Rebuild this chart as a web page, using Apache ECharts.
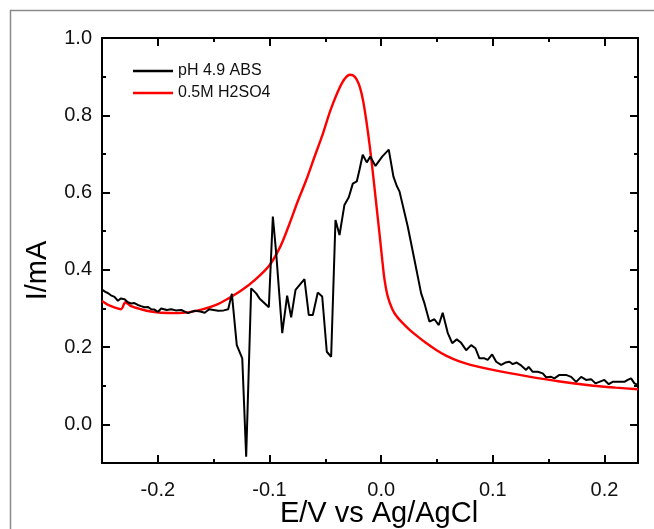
<!DOCTYPE html>
<html>
<head>
<meta charset="utf-8">
<script src="https://cdn.jsdelivr.net/npm/echarts@6/dist/echarts.min.js"></script>
<style>html,body{margin:0;padding:0;background:#fff}#c{width:654px;height:529px}</style>
</head>
<body>
<div id="c"></div>
<script>
// ---- data ----
var seriesNames = ['pH 4.9 ABS', '0.5M H2SO4'];
var abs49 = [
[-0.2507,0.350],[-0.2470,0.343],[-0.2448,0.340],[-0.2420,0.334],[-0.2388,0.330],[-0.2358,0.320],
[-0.2330,0.326],[-0.2298,0.324],[-0.2268,0.316],[-0.2238,0.313],[-0.2210,0.314],
[-0.2179,0.309],[-0.2150,0.306],[-0.2119,0.303],[-0.2090,0.304],[-0.2059,0.298],[-0.2030,0.297],[-0.2000,0.291],[-0.1970,0.300],[-0.1920,0.296],[-0.1880,0.298],
[-0.1840,0.295],[-0.1790,0.296],[-0.1730,0.288],[-0.1670,0.294],[-0.1620,0.292],[-0.1580,0.289],[-0.1540,0.298],[-0.1500,0.296],[-0.1460,0.294],
[-0.1410,0.295],[-0.1370,0.298],[-0.1337,0.338],[-0.1293,0.205],[-0.1244,0.171],[-0.1209,-0.084],[-0.1164,0.352],
[-0.1119,0.339],[-0.1090,0.326],[-0.1006,0.303],[-0.0970,0.538],[-0.0940,0.443],[-0.0886,0.236],
[-0.0842,0.333],[-0.0806,0.277],[-0.0767,0.348],[-0.0687,0.376],[-0.0648,0.283],[-0.0612,0.283],
[-0.0568,0.341],[-0.0528,0.331],[-0.0487,0.188],[-0.0448,0.175],[-0.0409,0.529],[-0.0373,0.490],
[-0.0329,0.568],[-0.0290,0.588],[-0.0254,0.623],[-0.0218,0.629],[-0.0194,0.659],[-0.0165,0.698],
[-0.0129,0.678],[-0.0098,0.693],[-0.0051,0.669],[0.0009,0.693],[0.0068,0.711],[0.0083,0.711],
[0.0110,0.641],[0.0140,0.617],[0.0164,0.603],[0.0238,0.512],[0.0298,0.426],[0.0358,0.339],
[0.0388,0.313],[0.0432,0.266],[0.0477,0.272],[0.0516,0.257],[0.0551,0.289],[0.0596,0.237],
[0.0636,0.210],[0.0677,0.220],[0.0716,0.211],[0.0761,0.192],[0.0806,0.205],[0.0844,0.197],
[0.0880,0.171],[0.0925,0.171],[0.0954,0.167],[0.0994,0.181],[0.1030,0.162],[0.1074,0.154],
[0.1113,0.160],[0.1149,0.162],[0.1178,0.156],[0.1214,0.160],[0.1256,0.152],[0.1298,0.141],
[0.1321,0.149],[0.1357,0.136],[0.1402,0.136],[0.1447,0.132],[0.1477,0.122],[0.1522,0.123],
[0.1551,0.119],[0.1596,0.128],[0.1656,0.128],[0.1701,0.123],[0.1746,0.110],[0.1791,0.123],
[0.1835,0.115],[0.1880,0.117],[0.1919,0.106],[0.1954,0.110],[0.1999,0.115],[0.2038,0.104],
[0.2073,0.110],[0.2133,0.110],[0.2178,0.110],[0.2208,0.115],[0.2238,0.119],[0.2268,0.106],
[0.2298,0.102]
];
var h2so4 = [
[-0.250,0.319],[-0.245,0.310],[-0.239,0.303],[-0.233,0.298],[-0.229,0.316],[-0.224,0.306],
[-0.215,0.298],[-0.206,0.292],[-0.197,0.289],[-0.182,0.288],[-0.173,0.290],[-0.161,0.297],
[-0.149,0.308],[-0.138,0.324],[-0.125,0.347],[-0.113,0.374],[-0.100,0.412],[-0.090,0.462],
[-0.082,0.520],[-0.075,0.575],[-0.067,0.633],[-0.060,0.690],[-0.052,0.754],[-0.046,0.808],
[-0.040,0.853],[-0.035,0.884],[-0.031,0.900],[-0.028,0.905],[-0.025,0.903],[-0.022,0.893],
[-0.019,0.872],[-0.016,0.835],[-0.013,0.780],[-0.010,0.715],[-0.007,0.640],[-0.004,0.560],
[-0.001,0.480],[0.001,0.425],[0.003,0.375],[0.006,0.330],[0.010,0.298],[0.014,0.279],
[0.020,0.260],[0.025,0.246],[0.032,0.229],[0.040,0.211],[0.050,0.191],[0.058,0.178],
[0.070,0.163],[0.080,0.154],[0.100,0.141],[0.130,0.125],[0.160,0.111],[0.190,0.100],
[0.210,0.095],[0.230,0.091]
];
var xMajorTicks = [-0.2, -0.1, 0.0, 0.1, 0.2];
var xMinorTicks = [-0.15, -0.05, 0.05, 0.15];
var yMajorTicks = [0.0, 0.2, 0.4, 0.6, 0.8, 1.0];
var yMinorTicks = [-0.1, 0.1, 0.3, 0.5, 0.7, 0.9];
var xRange = [-0.25, 0.23];
var yRange = [-0.1, 1.0];
var xTitle = 'E/V vs Ag/AgCl';
var yTitle = 'I/mA';

// ---- chart ----
var FONT = "'Liberation Sans', Arial, sans-serif";
function xAx(pos, ticks, len, labels, name) {
  return {
    type: 'value', position: pos, min: xRange[0], max: xRange[1],
    name: name || '', nameLocation: 'middle', nameGap: 36, nameMoveOverlap: false,
    nameTextStyle: {fontFamily: FONT, fontSize: 29, color: '#000', padding: [0, 0, 0, 18]},
    axisLine: {show: true, onZero: false, lineStyle: {color: '#000', width: 2}},
    axisTick: {show: true, inside: true, length: len, customValues: ticks, lineStyle: {color: '#000', width: 2}},
    axisLabel: {show: labels, customValues: ticks, margin: 17, fontFamily: FONT, fontSize: 20, color: '#111',
      formatter: function (v) { return v.toFixed(1); }},
    splitLine: {show: false}
  };
}
function yAx(pos, ticks, len, labels, name) {
  return {
    type: 'value', position: pos, min: yRange[0], max: yRange[1],
    name: name || '', nameLocation: 'middle', nameGap: 50, nameRotate: 90, nameMoveOverlap: false,
    nameTextStyle: {fontFamily: FONT, fontSize: 29, color: '#000', padding: [0, 40, 0, 0]},
    axisLine: {show: true, onZero: false, lineStyle: {color: '#000', width: 2}},
    axisTick: {show: true, inside: true, length: len, customValues: ticks, lineStyle: {color: '#000', width: 2}},
    axisLabel: {show: labels, customValues: ticks, margin: 10, fontFamily: FONT, fontSize: 20, color: '#111',
      formatter: function (v) { return v.toFixed(1); }},
    splitLine: {show: false}
  };
}
var chart = echarts.init(document.getElementById('c'), null, {renderer: 'canvas'});
chart.setOption({
  animation: false,
  backgroundColor: '#fff',
  graphic: [{type: 'rect', shape: {x: 10.5, y: 10.5, width: 800, height: 800},
    style: {fill: 'none', stroke: '#8a8a8a', lineWidth: 1.5}, silent: true}],
  grid: {left: 102, right: 16, top: 38, bottom: 66, containLabel: false, outerBoundsMode: 'none'},
  legend: {
    orient: 'vertical', left: 128, top: 58, itemWidth: 40, itemHeight: 2.5, itemGap: 6,
    icon: 'rect',
    textStyle: {fontFamily: FONT, fontSize: 16, color: '#111'},
    data: seriesNames
  },
  xAxis: [
    xAx('bottom', xMajorTicks, 8, true, xTitle),
    xAx('bottom', xMinorTicks, 4, false),
    xAx('top', xMajorTicks, 8, false),
    xAx('top', xMinorTicks, 4, false)
  ],
  yAxis: [
    yAx('left', yMajorTicks, 8, true, yTitle),
    yAx('left', yMinorTicks, 4, false),
    yAx('right', yMajorTicks, 8, false),
    yAx('right', yMinorTicks, 4, false)
  ],
  series: [
    {name: seriesNames[0], type: 'line', data: abs49, symbol: 'none', showSymbol: false,
      lineStyle: {color: '#000', width: 2}, itemStyle: {color: '#000'}, z: 3},
    {name: seriesNames[1], type: 'line', data: h2so4, symbol: 'none', showSymbol: false, smooth: 0.3,
      lineStyle: {color: '#ff0000', width: 2.4}, itemStyle: {color: '#ff0000'}, z: 2}
  ]
});
</script>
</body>
</html>
